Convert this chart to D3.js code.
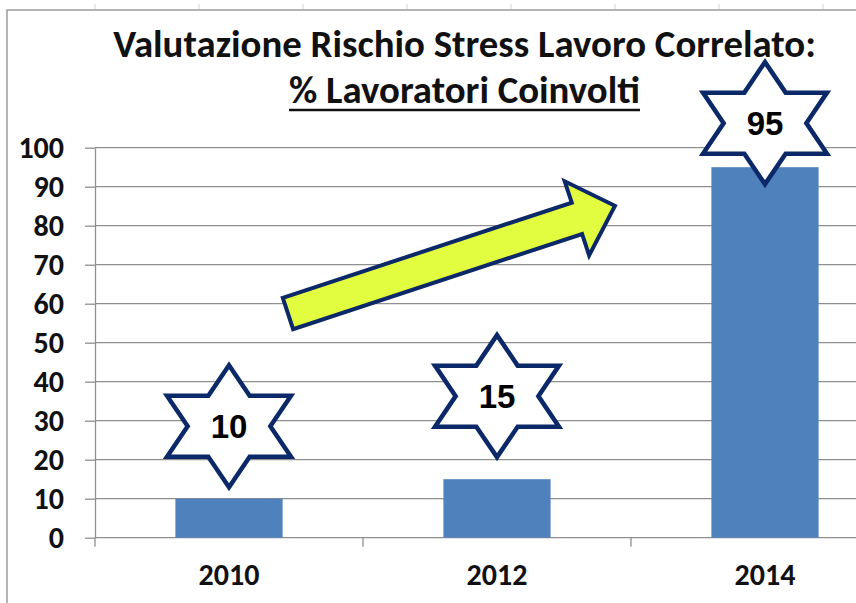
<!DOCTYPE html>
<html>
<head>
<meta charset="utf-8">
<script src="https://cdn.jsdelivr.net/npm/d3@7"></script>
<style>
  body { margin: 0; background: #fff; }
  svg { display: block; }
</style>
</head>
<body>
<div id="chart-area"></div>
<script>
var years = ["2010", "2012", "2014"];
var values = [10, 15, 95];
var yTicks = [0, 10, 20, 30, 40, 50, 60, 70, 80, 90, 100];
// where the callout stars sit, in % units
var starLevels = [28.6, 36.3, 106.3];
// trend arrow: [position in category steps, % level]
var arrowFrom = [0.72, 57.5];
var arrowTo = [1.94, 85.1];

var titleLines = ["Valutazione Rischio Stress Lavoro Correlato:", "% Lavoratori Coinvolti"];

var W = 856, H = 603;
var uiFont = "Carlito, Lato, 'Open Sans', sans-serif";
var navy = "#0b2868";

var svg = d3.select("#chart-area")
  .append("svg")
  .attr("width", W)
  .attr("height", H);

// spreadsheet cell lines peeking above the chart
svg.selectAll(".cell-line")
  .data(d3.range(8))
  .enter()
  .append("line")
  .attr("class", "cell-line")
  .attr("x1", function(d) { return 95 + d * 104; })
  .attr("x2", function(d) { return 95 + d * 104; })
  .attr("y1", 4)
  .attr("y2", 10)
  .attr("stroke", "#d4d4d4");

// chart frame (runs off the right and bottom)
svg.append("rect")
  .attr("x", 7)
  .attr("y", 10)
  .attr("width", 1000)
  .attr("height", 800)
  .attr("fill", "#fff")
  .attr("stroke", "#9c9c9c")
  .attr("stroke-width", 1.5);

var x = d3.scaleBand()
  .domain(years)
  .range([95, 899])
  .paddingInner(0.6)
  .paddingOuter(0.3);

var y = d3.scaleLinear()
  .domain([0, 100])
  .range([537.7, 147.7]);

function stepX(v) {
  return x.range()[0] + v * x.step();
}

// gridlines
svg.append("g")
  .selectAll("line")
  .data(yTicks)
  .enter()
  .append("line")
  .attr("x1", 95)
  .attr("x2", W)
  .attr("y1", function(d) { return y(d); })
  .attr("y2", function(d) { return y(d); })
  .attr("stroke", "#8f8f8f")
  .attr("stroke-width", 1.3);

// y axis
var yAxis = svg.append("g")
  .attr("transform", "translate(95,0)")
  .call(d3.axisLeft(y).tickValues(yTicks).tickSize(10).tickSizeOuter(0).tickPadding(21));

yAxis.select(".domain").attr("stroke", "#8f8f8f").attr("stroke-width", 1.3);
yAxis.selectAll(".tick line").attr("stroke", "#8f8f8f").attr("stroke-width", 1.3);
yAxis.selectAll(".tick text")
  .attr("font-family", uiFont)
  .attr("font-weight", "bold")
  .attr("font-size", "30px")
  .attr("fill", "#111");

// category separators below the axis
svg.append("g")
  .selectAll("line")
  .data(d3.range(years.length + 1))
  .enter()
  .append("line")
  .attr("x1", function(d) { return stepX(d); })
  .attr("x2", function(d) { return stepX(d); })
  .attr("y1", y(0))
  .attr("y2", y(0) + 9)
  .attr("stroke", "#8f8f8f")
  .attr("stroke-width", 1.3);

// x axis labels
var xAxis = svg.append("g")
  .attr("transform", "translate(0," + y(0) + ")")
  .call(d3.axisBottom(x).tickSize(0).tickPadding(26));

xAxis.select(".domain").remove();
xAxis.selectAll(".tick text")
  .attr("font-family", uiFont)
  .attr("font-weight", "bold")
  .attr("font-size", "30px")
  .attr("fill", "#111");

// bars
svg.selectAll("rect.bar")
  .data(values)
  .enter()
  .append("rect")
  .attr("class", "bar")
  .attr("x", function(d, i) { return x(years[i]); })
  .attr("y", function(d) { return y(d); })
  .attr("width", x.bandwidth())
  .attr("height", function(d) { return y(0) - y(d); })
  .attr("fill", "#4f81bd");

// title
var title = svg.append("g");
var t1 = title.append("text")
  .attr("x", 464.5)
  .attr("y", 57)
  .attr("text-anchor", "middle")
  .attr("font-family", uiFont)
  .attr("font-weight", "bold")
  .attr("font-size", "30px")
  .attr("fill", "#111")
  .text(titleLines[0]);

// fit the title line to the reference width
var fs = 30 * 703 / t1.node().getComputedTextLength();
t1.attr("font-size", fs + "px");

var t2 = title.append("text")
  .attr("x", 464.5)
  .attr("y", 102.5)
  .attr("text-anchor", "middle")
  .attr("font-family", uiFont)
  .attr("font-weight", "bold")
  .attr("font-size", fs + "px")
  .attr("fill", "#111")
  .text(titleLines[1]);

var w2 = t2.node().getComputedTextLength();
title.append("line")
  .attr("x1", 464.5 - w2 / 2)
  .attr("x2", 464.5 + w2 / 2)
  .attr("y1", 110)
  .attr("y2", 110)
  .attr("stroke", "#111")
  .attr("stroke-width", 2.5);

// trend arrow
var ax0 = stepX(arrowFrom[0]), ay0 = y(arrowFrom[1]);
var ax1 = stepX(arrowTo[0]), ay1 = y(arrowTo[1]);
var len = Math.hypot(ax1 - ax0, ay1 - ay0);
var ang = Math.atan2(ay1 - ay0, ax1 - ax0) * 180 / Math.PI;
var shaft = 16.5, head = 39, headLen = 40;

svg.append("path")
  .attr("transform", "translate(" + ax0 + "," + ay0 + ") rotate(" + ang + ")")
  .attr("d", d3.line()([
    [0, -shaft], [len - headLen, -shaft], [len - headLen, -head], [len, 0],
    [len - headLen, head], [len - headLen, shaft], [0, shaft]
  ]) + "Z")
  .attr("fill", "#e2fd40")
  .attr("stroke", navy)
  .attr("stroke-width", 4)
  .attr("stroke-linejoin", "miter");

// six-point star callouts
var sw = 62, sh = 61;
var starPts = [
  [0, -1], [1 / 3, -0.5], [1, -0.5], [2 / 3, 0], [1, 0.5], [1 / 3, 0.5],
  [0, 1], [-1 / 3, 0.5], [-1, 0.5], [-2 / 3, 0], [-1, -0.5], [-1 / 3, -0.5]
].map(function(p) { return [p[0] * sw, p[1] * sh]; });

var stars = svg.selectAll(".star")
  .data(values)
  .enter()
  .append("g")
  .attr("class", "star")
  .attr("transform", function(d, i) {
    return "translate(" + (x(years[i]) + x.bandwidth() / 2) + "," + y(starLevels[i]) + ")";
  });

stars.append("path")
  .attr("d", d3.line()(starPts) + "Z")
  .attr("fill", "#fff")
  .attr("stroke", navy)
  .attr("stroke-width", 4.5)
  .attr("stroke-linejoin", "miter");

stars.append("text")
  .attr("text-anchor", "middle")
  .attr("dy", "0.36em")
  .attr("font-family", "'Liberation Sans', Arial, sans-serif")
  .attr("font-weight", "bold")
  .attr("font-size", "33px")
  .attr("fill", "#000")
  .text(function(d) { return d; });
</script>
</body>
</html>
